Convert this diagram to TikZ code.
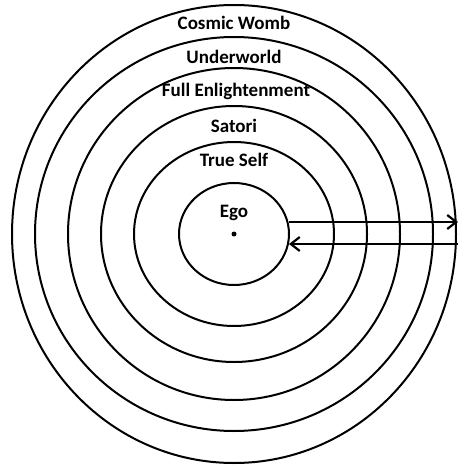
\documentclass[tikz,border=0pt]{standalone}
\usepackage{fontspec}
\setmainfont{Carlito}
\usetikzlibrary{shapes.geometric,arrows.meta}
\begin{document}
\begin{tikzpicture}[x=1pt,y=-1pt,
  ring/.style={draw, ellipse, line width=2pt, inner sep=0pt, outer sep=0pt},
  lbl/.style={font=\fontsize{19}{21}\selectfont\bfseries, inner sep=0pt},
  arr/.style={line width=2.2pt, -{Straight Barb[length=9pt,width=14pt,line width=2.2pt]}}]
\useasboundingbox (0,0) rectangle (457,465);
\coordinate (c) at (234,234);
\node[ring, minimum width=444pt, minimum height=458pt] (cw) at (c) {};
\node[ring, minimum width=398pt, minimum height=394pt] (uw) at (c) {};
\node[ring, minimum width=332pt, minimum height=332pt] (fe) at (c) {};
\node[ring, minimum width=266pt, minimum height=256pt] (sa) at (c) {};
\node[ring, minimum width=200pt, minimum height=184pt] (ts) at (c) {};
\node[ring, minimum width=110pt, minimum height=102pt] (ego) at (c) {};
\fill (c) circle[radius=2.5pt];
\node[lbl] (l1) at (234,23) {Cosmic Womb};
\node[lbl] (l2) at (234,57) {Underworld};
\node[lbl] (l3) at (236,91) {Full Enlightenment};
\node[lbl] (l4) at (234,126) {Satori};
\node[lbl] (l5) at (234,160) {True Self};
\node[lbl] (l6) at (234,213) {Ego};
\coordinate (a1) at (289,222);
\coordinate (b1) at (458,222);
\coordinate (a2) at (458,244);
\coordinate (b2) at (289,244);
\draw[arr] (a1) -- (b1);
\draw[arr] (a2) -- (b2);
\end{tikzpicture}
\end{document}
